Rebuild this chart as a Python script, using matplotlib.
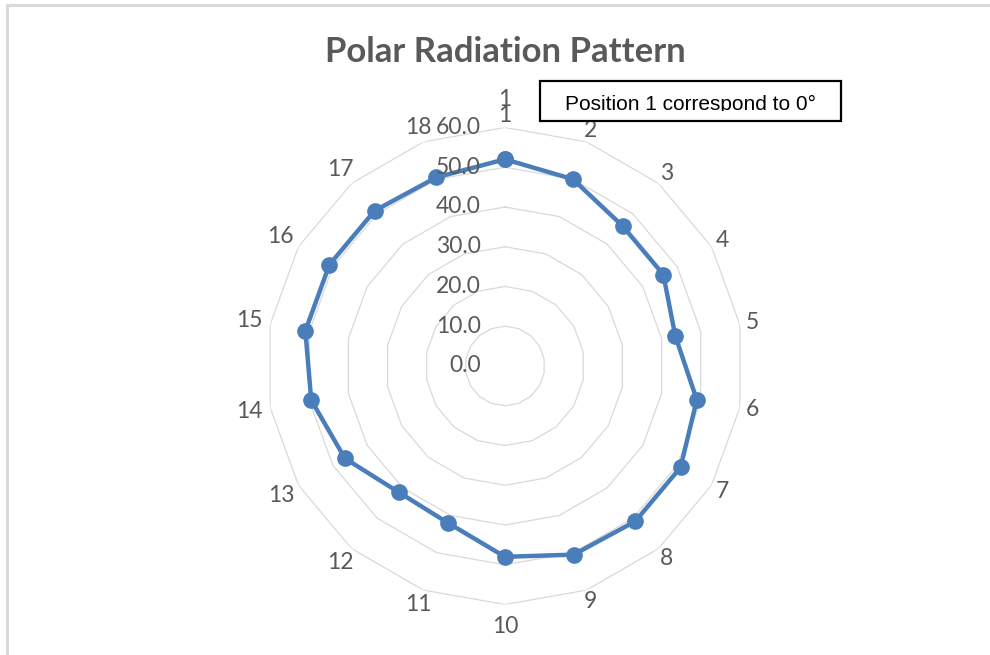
import numpy as np
import matplotlib
matplotlib.use("Agg")
import matplotlib.pyplot as plt
from matplotlib.patches import Rectangle
from matplotlib.lines import Line2D

# ---- data ----
categories = [str(i) for i in range(1, 19)]
values = [52, 50, 46, 46, 43.5, 49, 51, 51, 50.5, 48, 42, 41.5, 46.5, 49.5, 51, 51, 51, 50.5]
ring_values = [0, 10, 20, 30, 40, 50, 60]
ring_labels = ["0.0", "10.0", "20.0", "30.0", "40.0", "50.0", "60.0"]
title = "Polar Radiation Pattern"
note = "Position 1 correspond to 0°"

W, H = 990, 655
fig = plt.figure(figsize=(W / 100, H / 100), dpi=100)
fig.patch.set_facecolor("white")

cx, cy, R = 505, 366, 238.5
ax = fig.add_axes([(cx - R) / W, (H - cy - R) / H, 2 * R / W, 2 * R / H], projection="polar")
ax.set_theta_zero_location("N")
ax.set_theta_direction(-1)
ax.set_ylim(0, ring_values[-1])
ax.grid(False)
ax.spines["polar"].set_visible(False)
ax.set_xticks([])
ax.set_yticks([])
ax.patch.set_alpha(0)

n = len(categories)
theta = np.arange(n) * 2 * np.pi / n
theta_c = np.append(theta, theta[0])

for rv in ring_values[1:]:
    ax.plot(theta_c, [rv] * (n + 1), color="#d9d9d9", lw=0.9, zorder=1)

vals_c = np.append(values, values[0])
ax.plot(theta_c, vals_c, color="#4a7ebb", lw=3.2, marker="o", ms=11,
        zorder=3, clip_on=False)

txt_col = "#595959"
font = "Lato"
fs = 16.5

# radial value labels
for rv, lab in zip(ring_values, ring_labels):
    ax.annotate(lab, xy=(0, rv), xytext=(-24, 0), textcoords="offset pixels",
                ha="right", va="center", fontsize=fs, color=txt_col,
                family=font, zorder=4)

# category labels
for t, c in zip(theta, categories):
    rpx = 251 + 9 * abs(np.sin(t)) * (len(c) - 1)
    if c == "10":
        rpx = 261
    ax.text(t, rpx / R * ring_values[-1], c, ha="center", va="center",
            fontsize=fs, color=txt_col, family=font, zorder=4)
# duplicated "1" label seen in the reference
ax.text(theta[0], 267 / R * ring_values[-1], categories[0], ha="center", va="center",
        fontsize=fs, color=txt_col, family=font, zorder=3.5)

# title
fig.text(505.5 / W, 1 - 62 / H, title, ha="center", va="baseline",
         fontsize=25, weight="bold", color=txt_col, family=font)

# note box
box = Rectangle((540 / W, 1 - 121 / H), 301 / W, 40 / H, transform=fig.transFigure,
                facecolor="white", edgecolor="black", lw=1.6, zorder=5)
fig.add_artist(box)
clip = Rectangle((540 / W, 1 - 111 / H), 301 / W, 30 / H, transform=fig.transFigure,
                 facecolor="none", edgecolor="none")
t = fig.text(690.5 / W, 1 - 110 / H, note, ha="center", va="baseline",
             fontsize=15, color="black", family="Liberation Sans", zorder=6)
t.set_clip_path(clip)

# outer frame lines (top and left)
fig.add_artist(Line2D([7 / W, 989 / W], [1 - 5 / H, 1 - 5 / H], transform=fig.transFigure,
                      color="#d9d9d9", lw=2.2))
fig.add_artist(Line2D([7 / W, 7 / W], [0, 1 - 5 / H], transform=fig.transFigure,
                      color="#d9d9d9", lw=2.2))

fig.savefig("out.png", dpi=100, facecolor="white")
